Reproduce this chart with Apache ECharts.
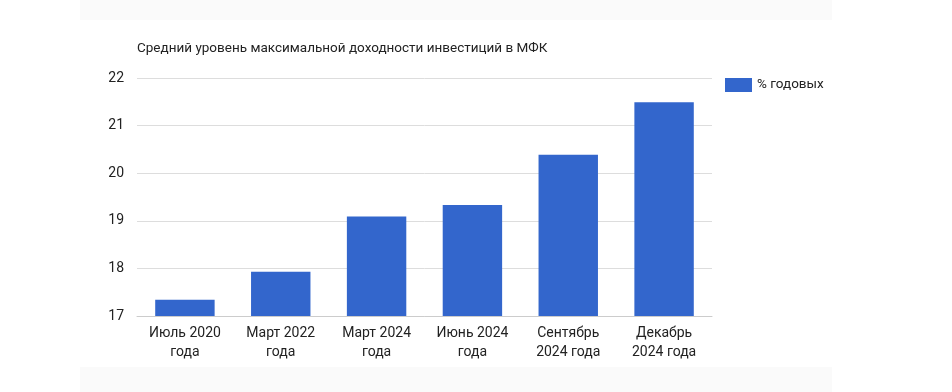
<!DOCTYPE html>
<html>
<head>
<meta charset="utf-8">
<script src="https://cdn.jsdelivr.net/npm/echarts@6/dist/echarts.min.js"></script>
<style>
html,body{margin:0;padding:0;background:#fff;}
#chart{width:952px;height:392px;}
</style>
</head>
<body>
<div id="chart"></div>
<script>
const titleText = 'Средний уровень максимальной доходности инвестиций в МФК';
const categories = ['Июль 2020\nгода', 'Март 2022\nгода', 'Март 2024\nгода', 'Июнь 2024\nгода', 'Сентябрь\n2024 года', 'Декабрь\n2024 года'];
const seriesName = '% годовых';
const values = [17.34, 17.93, 19.09, 19.33, 20.39, 21.49];
const yMin = 17, yMax = 22, yStep = 1;

const font = 'Roboto, "Noto Sans", sans-serif';
const chart = echarts.init(document.getElementById('chart'), null, {renderer: 'canvas'});
chart.setOption({
  backgroundColor: '#ffffff',
  animation: false,
  textStyle: {fontFamily: font},
  graphic: [
    {type: 'rect', left: 80, top: 0, shape: {width: 752, height: 20}, style: {fill: '#fafafa'}, silent: true},
    {type: 'rect', left: 80, top: 367, shape: {width: 752, height: 25}, style: {fill: '#fafafa'}, silent: true}
  ],
  title: {
    text: titleText,
    left: 132, top: 37,
    textStyle: {fontFamily: font, fontSize: 13.5, fontWeight: 'normal', color: '#222'}
  },
  legend: {
    data: [seriesName],
    left: 720, top: 73,
    itemWidth: 27, itemHeight: 14, itemGap: 6,
    icon: 'rect',
    textStyle: {fontFamily: font, fontSize: 13.5, color: '#222'}
  },
  grid: {left: 137, right: 240, top: 78, bottom: 76, containLabel: false},
  xAxis: {
    type: 'category',
    data: categories,
    axisLine: {show: true, lineStyle: {color: '#cccccc', width: 1}},
    axisTick: {show: false},
    axisLabel: {fontFamily: font, fontSize: 14, color: '#222', margin: 8, lineHeight: 19, interval: 0}
  },
  yAxis: {
    type: 'value',
    min: yMin, max: yMax, interval: yStep,
    axisLine: {show: false},
    axisTick: {show: false},
    axisLabel: {fontFamily: font, fontSize: 14, color: '#222', margin: 13},
    splitLine: {lineStyle: {color: '#dddddd', width: 1}}
  },
  series: [{
    name: seriesName,
    type: 'bar',
    data: values,
    barWidth: '62%',
    itemStyle: {color: '#3366cc'}
  }]
});
</script>
</body>
</html>
